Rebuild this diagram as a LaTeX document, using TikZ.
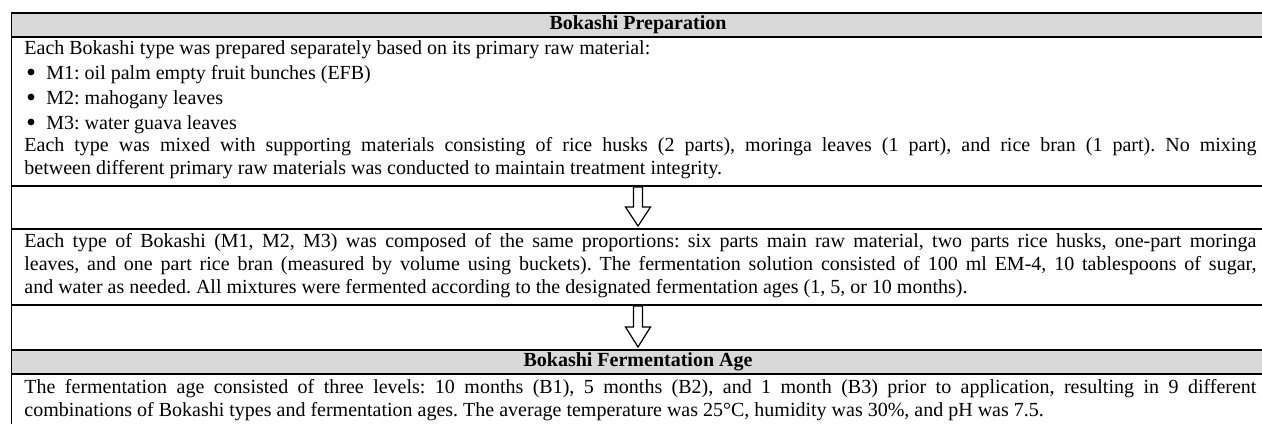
\documentclass[tikz,border=0pt]{standalone}
\usepackage{fontspec}
\setmainfont{Liberation Serif}
\frenchspacing
\definecolor{headgray}{HTML}{D9D9D9}

\tikzset{
  bodytext/.style={anchor=north west, inner sep=0pt, align=left, font=\fontsize{10}{11.5}\selectfont},
  headtext/.style={inner sep=0pt, font=\fontsize{10}{11.5}\selectfont\bfseries},
  bulletdot/.style={circle, fill=black, inner sep=0pt, minimum size=3.4pt},
  rowrule/.style={line width=1pt},
  hollowarrow/.style={draw=black, fill=white, line width=0.6pt, line join=miter}
}
\newcommand{\fullline}[1]{\makebox[616pt][s]{#1}}

\begin{document}
\begin{tikzpicture}[x=0.5pt, y=-0.5pt]
\useasboundingbox (0,0) rectangle (1262,424);

% Bokashi Preparation header
\filldraw[fill=headgray, draw=none] (11,13) rectangle (1262,37);
\path (638,25) node[headtext] (prephead) {Bokashi Preparation};

% raw materials
\path
(24,38) node[bodytext] (intro) {\strut Each Bokashi type was prepared separately based on its primary raw material:}
(31,72) node[bulletdot] (bulone) {}
(46,63) node[bodytext] (mone) {\strut M1: oil palm empty fruit bunches (EFB)}
(31,97) node[bulletdot] (bultwo) {}
(46,88) node[bodytext] (mtwo) {\strut M2: mahogany leaves}
(31,122) node[bulletdot] (bulthree) {}
(46,113) node[bodytext] (mthree) {\strut M3: water guava leaves}
(24,135) node[bodytext] (mixing) {\fullline{\strut Each type was mixed with supporting materials consisting of rice husks (2 parts), moringa leaves (1 part), and rice bran (1 part). No mixing}\\
between different primary raw materials was conducted to maintain treatment integrity.};

% first arrow
\draw[hollowarrow] (633.5,187) -- (642.5,187) -- (642.5,207) -- (650.5,207) -- (638,226)
  -- (625.5,207) -- (633.5,207) -- cycle;

% composition
\path
(24,231) node[bodytext] (compose) {\fullline{\strut Each type of Bokashi (M1, M2, M3) was composed of the same proportions: six parts main raw material, two parts rice husks, one-part moringa}\\
\fullline{leaves, and one part rice bran (measured by volume using buckets). The fermentation solution consisted of 100 ml EM-4, 10 tablespoons of sugar,}\\
and water as needed. All mixtures were fermented according to the designated fermentation ages (1, 5, or 10 months).};

% second arrow
\draw[hollowarrow] (633.5,306) -- (642.5,306) -- (642.5,327) -- (650.5,327) -- (638,347)
  -- (625.5,327) -- (633.5,327) -- cycle;

% Bokashi Fermentation Age header
\filldraw[fill=headgray, draw=none] (11,350) rectangle (1262,374);
\path (638,362) node[headtext] (agehead) {Bokashi Fermentation Age};

\path
(24,377) node[bodytext] (ages) {\fullline{\strut The fermentation age consisted of three levels: 10 months (B1), 5 months (B2), and 1 month (B3) prior to application, resulting in 9 different}\\
combinations of Bokashi types and fermentation ages. The average temperature was 25°C, humidity was 30\%, and pH was 7.5.};

% rules
\draw[rowrule] (11,13) -- (1262,13);
\draw[rowrule] (11,37) -- (1262,37);
\draw[rowrule] (11,186) -- (1262,186);
\draw[rowrule] (11,229) -- (1262,229);
\draw[rowrule] (11,305) -- (1262,305);
\draw[rowrule] (11,350) -- (1262,350);
\draw[rowrule] (11,374) -- (1262,374);
\draw[line width=0.5pt] (11,12) -- (11,424);

\end{tikzpicture}
\end{document}
